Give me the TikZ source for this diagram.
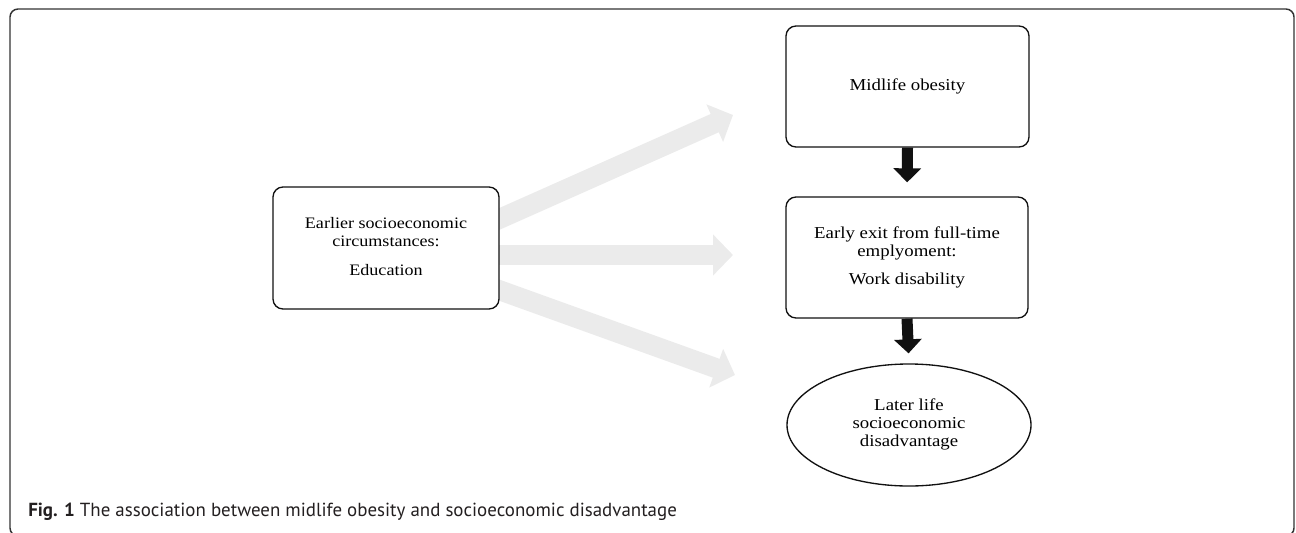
\documentclass[tikz,border=0pt]{standalone}
\usepackage{fontspec}
\usepackage{graphicx}
\setmainfont{Liberation Serif}
\newfontfamily\capfont{PT Sans}
\usetikzlibrary{arrows.meta,shapes.geometric,backgrounds}

\definecolor{framegray}{HTML}{333333}
\definecolor{pathgray}{HTML}{EBEBEB}
\definecolor{inkblack}{HTML}{111111}
\definecolor{captionink}{HTML}{231F20}

% centred block of lines, set slightly wide
\newcommand{\widelines}[1]{\scalebox{1.13}[1]{\begin{tabular}{@{}c@{}}#1\end{tabular}}}

\tikzset{
  boxnode/.style={draw=inkblack, line width=1pt, rounded corners=7.5pt, fill=white,
    align=center, inner sep=0pt, font=\fontsize{12.5}{13.5}\selectfont},
  ovalnode/.style={ellipse, draw=inkblack, line width=1pt, fill=white,
    align=center, inner sep=0pt, font=\fontsize{12.5}{13.5}\selectfont},
  softarrow/.style={draw=pathgray, line width=15pt,
    -{Triangle[length=15pt, width=30pt, color=pathgray]}},
  hardarrow/.style={draw=inkblack, line width=8.25pt,
    -{Triangle[length=10.5pt, width=20.25pt, color=inkblack]}},
}

\begin{document}
\begin{tikzpicture}[x=0.75pt, y=-0.75pt]
  \useasboundingbox (0,0) rectangle (1296,532);

  % outer panel
  \draw[framegray, line width=1.1pt, rounded corners=6pt] (10,9) rectangle (1294,536);

  % boxes
  \node[boxnode, minimum width=169.5pt, minimum height=91.5pt,
        font=\fontsize{12}{13.5}\selectfont] (left) at (386,248)
    {\widelines{Earlier socioeconomic\\circumstances:\\[8.25pt]Education}};
  \node[boxnode, minimum width=182.25pt, minimum height=90.75pt] (obesity) at (907.5,86.5)
    {\widelines{Midlife obesity}};
  \node[boxnode, minimum width=181.5pt, minimum height=90.75pt] (exit) at (907,257.5)
    {\widelines{Early exit from full-time\\emplyoment:\\[7.5pt]Work disability}};
  \node[ovalnode, minimum width=183pt, minimum height=91.5pt] (later) at (909,425)
    {\widelines{Later life\\socioeconomic\\disadvantage}};

  % free ends of the grey pathways
  \coordinate (s1) at (470,232);
  \coordinate (t1) at (733,115);
  \coordinate (s2) at (470,255);
  \coordinate (t2) at (733,255);
  \coordinate (s3) at (470,279.6);
  \coordinate (t3) at (735,375);

  \begin{scope}[on background layer]
    \draw[softarrow] (s1) -- (t1);
    \draw[softarrow] (s2) -- (t2);
    \draw[softarrow] (s3) -- (t3);
  \end{scope}

  % black pathways
  \draw[hardarrow, shorten >=10.5pt] (obesity.south) -- (exit.north);
  \draw[hardarrow, shorten >=7.5pt] (exit.south) -- (later.north);

  % caption
  \node[anchor=base west, inner sep=0pt, text=captionink,
        font=\capfont\fontsize{14.2}{16}\selectfont] (caption) at (28,516)
    {\textbf{Fig. 1} The association between midlife obesity and socioeconomic disadvantage};
\end{tikzpicture}
\end{document}
